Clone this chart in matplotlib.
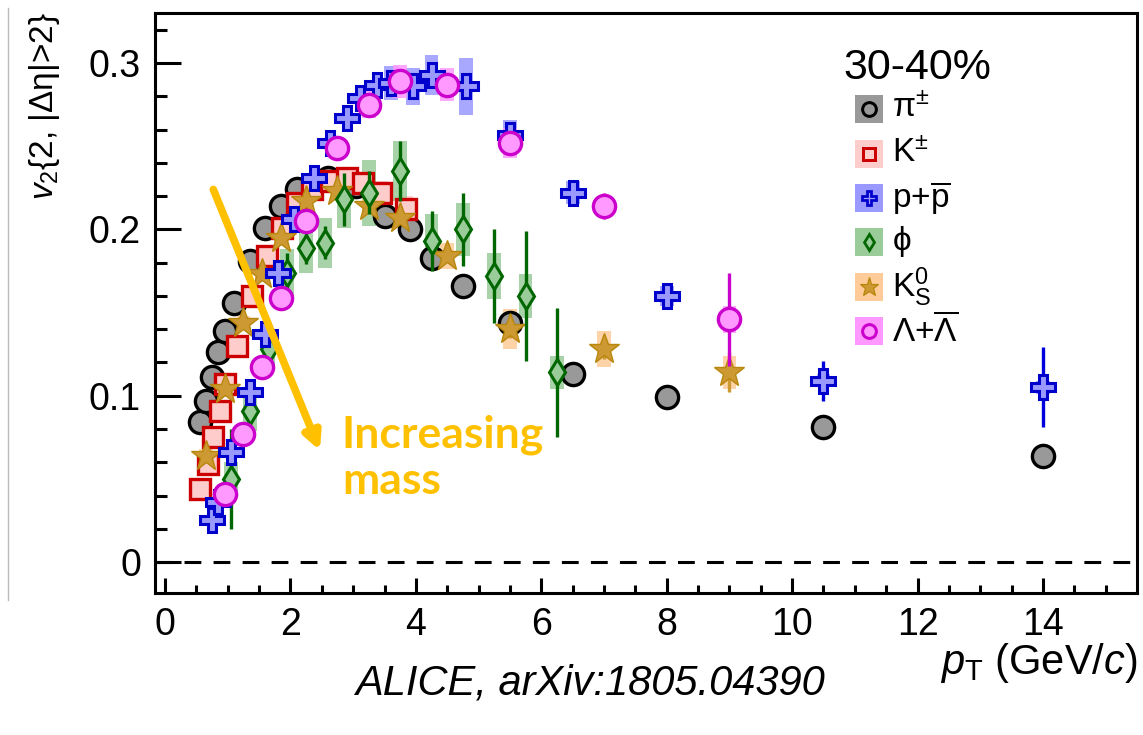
import numpy as np
import matplotlib
matplotlib.use("Agg")
import matplotlib.pyplot as plt
from matplotlib.lines import Line2D
from matplotlib.patches import Rectangle

plt.rcParams['font.family'] = ['Liberation Sans', 'DejaVu Sans']
plt.rcParams['mathtext.fontset'] = 'custom'
plt.rcParams['mathtext.rm'] = 'Liberation Sans'
plt.rcParams['mathtext.it'] = 'Liberation Sans:italic'
plt.rcParams['mathtext.bf'] = 'Liberation Sans:bold'

# v2{2, |deta|>2} vs pT, 30-40% centrality
pi_pt = [0.55, 0.65, 0.75, 0.85, 0.95, 1.1, 1.35, 1.6, 1.85, 2.1, 2.6, 3.05, 3.5, 3.9, 4.25, 4.75, 5.5, 6.5, 8.0, 10.5, 14.0]
pi_v2 = [0.084, 0.097, 0.111, 0.126, 0.139, 0.156, 0.181, 0.201, 0.214, 0.224, 0.231, 0.226, 0.208, 0.200, 0.183, 0.166, 0.144, 0.113, 0.099, 0.081, 0.064]
pi_stat = [0.001] * 19 + [0.003, 0.007]
pi_sys = [0.002] * 21

k_pt = [0.56, 0.69, 0.77, 0.88, 0.96, 1.14, 1.38, 1.62, 1.86, 2.1, 2.35, 2.65, 2.9, 3.15, 3.45, 3.85]
k_v2 = [0.044, 0.059, 0.075, 0.091, 0.107, 0.130, 0.160, 0.184, 0.201, 0.216, 0.224, 0.229, 0.231, 0.228, 0.222, 0.212]
k_stat = [0.001] * 16
k_sys = [0.004] * 12 + [0.006, 0.006, 0.007, 0.008]

p_pt = [0.75, 0.85, 1.05, 1.35, 1.6, 1.8, 2.05, 2.38, 2.63, 2.9, 3.11, 3.38, 3.6, 3.96, 4.25, 4.8, 5.5, 6.5, 8.0, 10.5, 14.0]
p_v2 = [0.025, 0.036, 0.066, 0.102, 0.137, 0.174, 0.206, 0.231, 0.252, 0.267, 0.279, 0.287, 0.288, 0.286, 0.293, 0.286, 0.257, 0.222, 0.160, 0.109, 0.105]
p_stat = [0.001] * 14 + [0.003, 0.004, 0.004, 0.005, 0.006, 0.012, 0.024]
p_sys = [0.003] * 12 + [0.010, 0.011, 0.012, 0.017, 0.009, 0.007, 0.006, 0.004, 0.004]

phi_pt = [1.05, 1.35, 1.65, 1.95, 2.25, 2.55, 2.85, 3.25, 3.75, 4.25, 4.75, 5.25, 5.75, 6.25]
phi_v2 = [0.050, 0.091, 0.128, 0.174, 0.189, 0.192, 0.218, 0.222, 0.235, 0.193, 0.200, 0.172, 0.160, 0.114]
phi_stat = [0.030, 0.014, 0.012, 0.012, 0.010, 0.010, 0.016, 0.013, 0.018, 0.018, 0.022, 0.028, 0.039, 0.039]
phi_sys = [0.010, 0.012, 0.012, 0.014, 0.015, 0.015, 0.017, 0.020, 0.018, 0.016, 0.016, 0.014, 0.013, 0.010]

k0s_pt = [0.65, 0.95, 1.25, 1.55, 1.85, 2.25, 2.75, 3.25, 3.75, 4.5, 5.5, 7.0, 9.0]
k0s_v2 = [0.064, 0.104, 0.144, 0.173, 0.195, 0.217, 0.223, 0.214, 0.207, 0.184, 0.140, 0.128, 0.114]
k0s_stat = [0.001] * 9 + [0.003, 0.005, 0.006, 0.012]
k0s_sys = [0.004] * 9 + [0.008, 0.012, 0.011, 0.010]

lam_pt = [0.95, 1.25, 1.55, 1.85, 2.25, 2.75, 3.25, 3.75, 4.5, 5.5, 7.0, 9.0]
lam_v2 = [0.041, 0.077, 0.117, 0.159, 0.205, 0.249, 0.275, 0.289, 0.287, 0.252, 0.214, 0.146]
lam_stat = [0.001] * 8 + [0.003, 0.005, 0.008, 0.028]
lam_sys = [0.004] * 6 + [0.008, 0.010, 0.010, 0.009, 0.006, 0.008]

labels = [r'$\mathrm{\pi}^{\pm}$', r'K$^{\pm}$', r'p+$\overline{\rm p}$', r'$\mathrm{\phi}$',
          r'K$^{0}_{\rm S}$', r'$\Lambda$+$\overline{\Lambda}$']

species = [
    dict(pt=pi_pt, v2=pi_v2, stat=pi_stat, sys=pi_sys, marker='o', ms=16, mew=2.4,
         ec='black', fc='#999999', box='#999999', lc='black'),
    dict(pt=k_pt, v2=k_v2, stat=k_stat, sys=k_sys, marker='s', ms=15, mew=2.4,
         ec='#CC0000', fc='#FFCCCC', box='#FFCCCC', lc='#CC0000'),
    dict(pt=p_pt, v2=p_v2, stat=p_stat, sys=p_sys, marker='P', ms=17, mew=2.2,
         ec='#0000CC', fc='#9999FF', box='#9999FF', lc='#0000DD'),
    dict(pt=phi_pt, v2=phi_v2, stat=phi_stat, sys=phi_sys, marker='d', ms=13, mew=2.2,
         ec='#006600', fc='#99CC99', box='#99CC99', lc='#006600'),
    dict(pt=k0s_pt, v2=k0s_v2, stat=k0s_stat, sys=k0s_sys, marker='*', ms=23, mew=1.0,
         ec='#B8860B', fc='#CC9933', box='#FFCC99', lc='#CC9933'),
    dict(pt=lam_pt, v2=lam_v2, stat=lam_stat, sys=lam_sys, marker='o', ms=16, mew=2.4,
         ec='#CC00CC', fc='#FF99FF', box='#FF99FF', lc='#CC00CC'),
]
draw_order = [0, 1, 4, 3, 2, 5]

fig = plt.figure(figsize=(11.43, 7.35), dpi=100)
ax = fig.add_axes([155 / 1143, 142 / 735, 982 / 1143, 580 / 735])
ax.set_xlim(-0.16, 15.5)
ax.set_ylim(-0.0186, 0.3301)

ax.axhline(0, color='black', lw=2.2, ls=(0, (5.5, 4)), zorder=1)

# systematic boxes
for s in species:
    pt = np.array(s['pt'])
    v2 = np.array(s['v2'])
    sy = np.array(s['sys'])
    ax.bar(pt, 2 * sy, bottom=v2 - sy, width=0.22, color=s['box'], alpha=0.85,
           linewidth=0, zorder=2)

# points with statistical errors
for z, i in enumerate(draw_order):
    s = species[i]
    ax.errorbar(s['pt'], s['v2'], yerr=s['stat'], fmt=s['marker'], ms=s['ms'],
                mew=s['mew'], mec=s['ec'], mfc=s['fc'], ecolor=s['lc'],
                elinewidth=2.4, capsize=0, zorder=3 + z)

# axes look
for sp in ax.spines.values():
    sp.set_linewidth(2.2)
ax.set_xticks(np.arange(0, 15, 2))
ax.set_xticks(np.arange(0, 15.5, 0.5), minor=True)
ax.set_yticks([0, 0.1, 0.2, 0.3])
ax.set_yticklabels(['0', '0.1', '0.2', '0.3'])
ax.set_yticks(np.arange(0, 0.33, 0.02), minor=True)
ax.tick_params(axis='both', which='both', direction='in', width=2.2,
               top=False, right=False, labelsize=27)
ax.tick_params(axis='y', which='major', length=19, pad=10)
ax.tick_params(axis='y', which='minor', length=8.5)
ax.tick_params(axis='x', which='major', length=11, pad=10)
ax.tick_params(axis='x', which='minor', length=6)

fig.text(45 / 1143, 1 - 12 / 735, r'$v_2${2, |$\mathrm{\Delta\eta}$|>2}', rotation=90,
         ha='center', va='top', fontsize=24)
fig.text(1137 / 1143, 1 - 641 / 735, r'$p_{\rm T}$ (GeV/$c$)', ha='right',
         va='top', fontsize=30)

# legend
ax.text(0.7006, 0.905, '30-40%', transform=ax.transAxes, fontsize=31,
        ha='left', va='center')
leg_y = [0.8345, 0.7569, 0.6810, 0.6052, 0.5276, 0.4517]
for s, lab, yy in zip(species, labels, leg_y):
    ax.add_patch(Rectangle((0.7128, yy - 0.0241), 0.0285, 0.0483,
                           transform=ax.transAxes, color=s['box'], lw=0,
                           zorder=20, clip_on=False))
    ax.plot([0.7270], [yy], transform=ax.transAxes, marker=s['marker'],
            ms=s['ms'] * 0.62, mew=s['mew'] * 0.9, mec=s['ec'], mfc=s['fc'],
            zorder=21, clip_on=False, ls='none')
    ax.text(0.7505, yy, lab, transform=ax.transAxes, fontsize=24,
            ha='left', va='center', zorder=21)

# mass ordering arrow
ax.annotate('', xy=(2.47, 0.067), xytext=(0.77, 0.224),
            arrowprops=dict(arrowstyle='-|>,head_length=1.0,head_width=0.5',
                            color='#FFC000', lw=5.5, shrinkA=0, shrinkB=0),
            zorder=30)
ax.text(2.82, 0.089, 'Increasing\nmass', color='#FFC000', fontsize=32,
        fontweight='bold', family=['Lato', 'DejaVu Sans'], ha='left', va='top',
        linespacing=1.2, zorder=30)

fig.text(590 / 1143, 1 - 683 / 735, 'ALICE, arXiv:1805.04390',
         family=['Liberation Sans'], style='italic',
         fontsize=30, ha='center', va='center')

fig.add_artist(Line2D([8 / 1143, 8 / 1143], [1 - 8 / 735, 1 - 600 / 735],
                      color='#BBBBBB', lw=1))

fig.savefig('out.png', dpi=100)
